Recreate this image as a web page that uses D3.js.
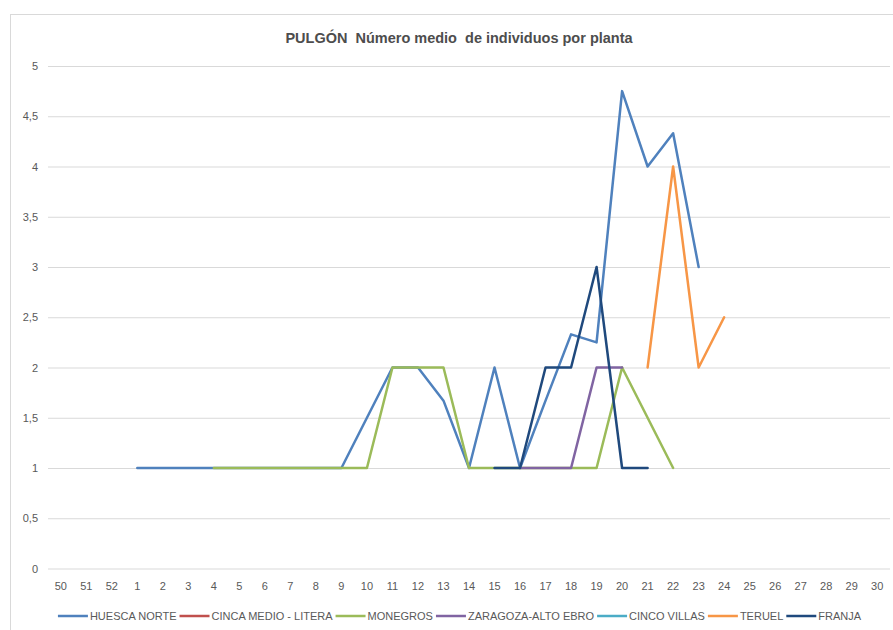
<!DOCTYPE html>
<html>
<head>
<meta charset="utf-8">
<style>
  body { margin: 0; background: #fff; }
  svg { display: block; font-family: "Liberation Sans", Arial, sans-serif; }
  .tick text { fill: #595959; font-size: 11px; }
  #title { white-space: pre; }
</style>
</head>
<body>
<script src="https://d3js.org/d3.v7.min.js"></script>
<script>

var width = 893,
    height = 630;
var margin = {"top": 66, "right": 3, "bottom": 61, "left": 48};

// week labels (50, 51, 52 of previous year, then 1..30)
var weeks = ["50","51","52","1","2","3","4","5","6","7","8","9","10","11","12","13","14","15",
             "16","17","18","19","20","21","22","23","24","25","26","27","28","29","30"];

var yTicks = [0, 0.5, 1, 1.5, 2, 2.5, 3, 3.5, 4, 4.5, 5];

var names = ["HUESCA NORTE", "CINCA MEDIO - LITERA", "MONEGROS", "ZARAGOZA-ALTO EBRO",
             "CINCO VILLAS", "TERUEL", "FRANJA"];

var colors = ["#4f81bd", "#c0504d", "#9bbb59", "#8064a2", "#4bacc6", "#f79646", "#1f497d"];

var n = null;
var huesca   = [n,n,n, 1,1,1,1,1,1,1,1,1,1.5,2,2,1.67,1,2,1,1.67,2.33,2.25,4.75,4,4.33,3, n,n,n,n,n,n,n];
var cinca    = [n,n,n, n,n,n,n,n,n,n,n,n,n,n,n,n,n,n,n,n,n,n,n,n,n,n, n,n,n,n,n,n,n];
var monegros = [n,n,n, n,n,n,1,1,1,1,1,1,1,2,2,2,1,1,1,1,1,1,2,1.5,1,n, n,n,n,n,n,n,n];
var zaragoza = [n,n,n, n,n,n,n,n,n,n,n,n,n,n,n,n,n,n,1,1,1,2,2,n,n,n, n,n,n,n,n,n,n];
var cinco    = [n,n,n, n,n,n,n,n,n,n,n,n,n,n,n,n,n,n,n,n,n,n,n,n,n,n, n,n,n,n,n,n,n];
var teruel   = [n,n,n, n,n,n,n,n,n,n,n,n,n,n,n,n,n,n,n,n,n,n,n,2,4,2,2.5,n,n,n,n,n,n];
var franja   = [n,n,n, n,n,n,n,n,n,n,n,n,n,n,n,n,n,1,1,2,2,3,1,1,n,n, n,n,n,n,n,n,n];

var series = [huesca, cinca, monegros, zaragoza, cinco, teruel, franja];

var svg = d3.select("body").append("svg")
    .attr("width", width)
    .attr("height", height);

// chart frame
svg.append("rect")
    .attr("x", 10.5).attr("y", 14.5)
    .attr("width", 900).attr("height", 700)
    .attr("fill", "#fff")
    .attr("stroke", "#d9d9d9");

svg.append("text")
    .attr("id", "title")
    .attr("x", 459)
    .attr("y", 43)
    .attr("text-anchor", "middle")
    .attr("font-size", "14.5px")
    .attr("font-weight", "bold")
    .attr("fill", "#4d4d4d")
    .text("PULGÓN  Número medio  de individuos por planta");

var x = d3.scaleBand()
    .domain(weeks)
    .range([margin.left, width - margin.right]);

var y = d3.scaleLinear()
    .domain([0, 5])
    .range([height - margin.bottom - 0.5, margin.top]);

// gridlines + y labels
var yAxis = svg.append("g")
    .attr("transform", "translate(" + margin.left + ",0)")
    .call(d3.axisLeft(y)
      .tickValues(yTicks)
      .tickSize(-(width - margin.right - margin.left))
      .tickPadding(10)
      .tickFormat(function(d) { return String(d).replace(".", ","); }));
yAxis.select(".domain").remove();
yAxis.selectAll(".tick line").attr("stroke", "#d9d9d9");

// x labels
var xAxis = svg.append("g")
    .attr("transform", "translate(0," + y(0) + ")")
    .call(d3.axisBottom(x).tickSize(0).tickPadding(14));
xAxis.select(".domain").remove();

var line = d3.line()
    .defined(function(d) { return d != null; })
    .x(function(d, i) { return x(weeks[i]) + x.bandwidth() / 2; })
    .y(function(d) { return y(d); });

svg.append("g").selectAll("path")
    .data(series)
    .enter().append("path")
    .attr("d", line)
    .attr("fill", "none")
    .attr("stroke", function(d, i) { return colors[i]; })
    .attr("stroke-width", 2.5)
    .attr("stroke-linejoin", "round")
    .attr("stroke-linecap", "round");

// legend, laid out left to right then centred
var legend = svg.append("g");
var lx = 0;
names.forEach(function(name, i) {
  var item = legend.append("g").attr("transform", "translate(" + lx + ",0)");
  item.append("line")
      .attr("x1", 0).attr("x2", 30)
      .attr("y1", 0).attr("y2", 0)
      .attr("stroke", colors[i])
      .attr("stroke-width", 2.5);
  var t = item.append("text")
      .attr("x", 32)
      .attr("y", 4)
      .attr("font-size", "11px")
      .attr("fill", "#595959")
      .text(name);
  lx += 32 + t.node().getComputedTextLength() + 3;
});
legend.attr("transform", "translate(" + (461 - lx / 2) + ",616)");

</script>
</body>
</html>
